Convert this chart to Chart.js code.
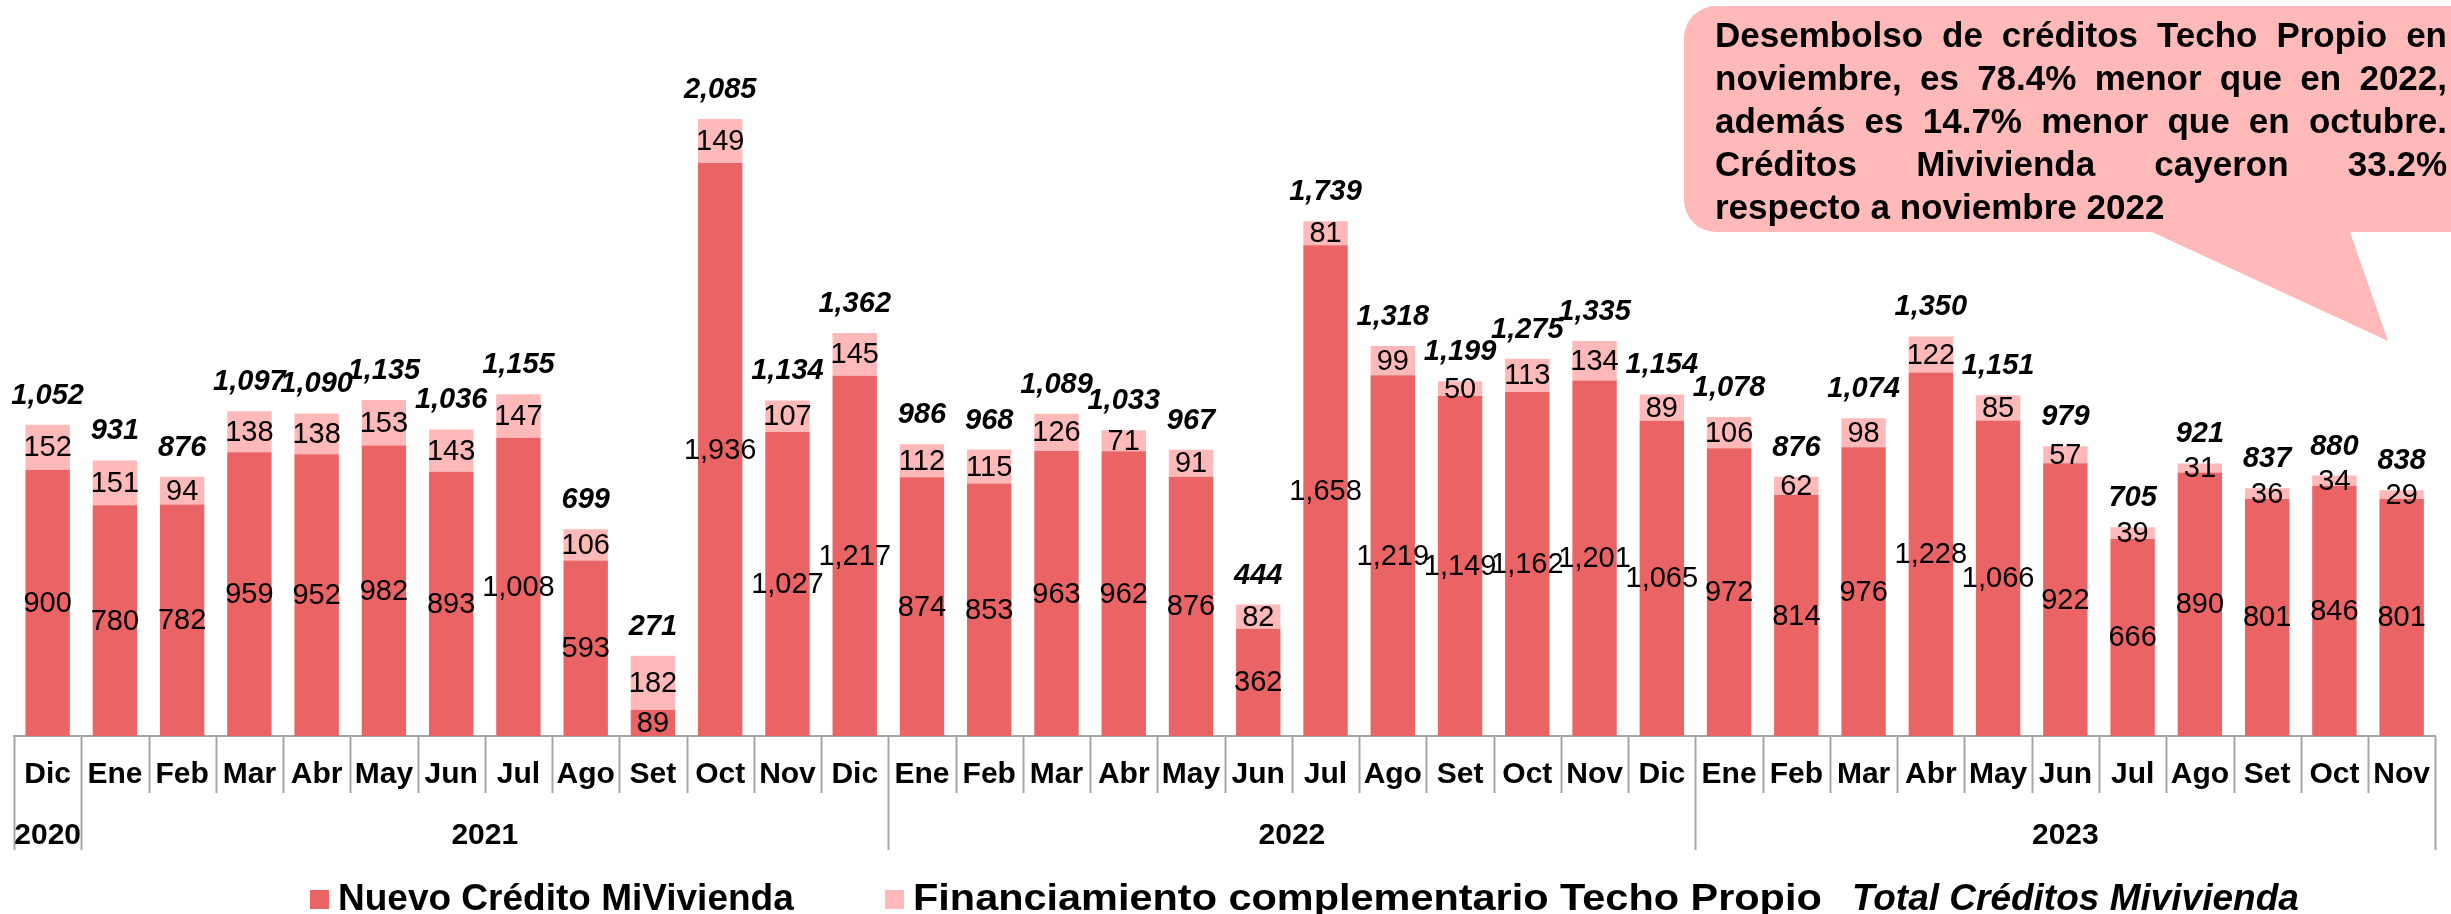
<!DOCTYPE html>
<html lang="es">
<head>
<meta charset="utf-8">
<title>Créditos MiVivienda y Techo Propio</title>
<script src="https://cdn.jsdelivr.net/npm/chart.js@4.4.1/dist/chart.umd.min.js"></script>
<style>
  html, body { margin: 0; padding: 0; background: #fff; }
  #caja { width: 2451px; height: 914px; }
</style>
</head>
<body>
<div id="caja"><canvas id="grafico" width="2451" height="914"></canvas></div>
<script>
// Meses (dic 2020 - nov 2023)
const meses = ['Dic',
  'Ene','Feb','Mar','Abr','May','Jun','Jul','Ago','Set','Oct','Nov','Dic',
  'Ene','Feb','Mar','Abr','May','Jun','Jul','Ago','Set','Oct','Nov','Dic',
  'Ene','Feb','Mar','Abr','May','Jun','Jul','Ago','Set','Oct','Nov'];
const anios = ['2020', '2021', '2022', '2023'];
const mesesPorAnio = [1, 12, 12, 11];

const nuevoCredito = [900, 780, 782, 959, 952, 982, 893, 1008, 593, 89, 1936, 1027, 1217,
  874, 853, 963, 962, 876, 362, 1658, 1219, 1149, 1162, 1201, 1065,
  972, 814, 976, 1228, 1066, 922, 666, 890, 801, 846, 801];
const techoPropio = [152, 151, 94, 138, 138, 153, 143, 147, 106, 182, 149, 107, 145,
  112, 115, 126, 71, 91, 82, 81, 99, 50, 113, 134, 89,
  106, 62, 98, 122, 85, 57, 39, 31, 36, 34, 29];
const totalCreditos = [1052, 931, 876, 1097, 1090, 1135, 1036, 1155, 699, 271, 2085, 1134, 1362,
  986, 968, 1089, 1033, 967, 444, 1739, 1318, 1199, 1275, 1335, 1154,
  1078, 876, 1074, 1350, 1151, 979, 705, 921, 837, 880, 838];

const etiquetaTotal = 'Total Créditos Mivivienda';
const notaLineas = [
  'Desembolso de créditos Techo Propio en',
  'noviembre, es 78.4% menor que en 2022,',
  'además es 14.7% menor que en octubre.',
  'Créditos Mivivienda cayeron 33.2%',
  'respecto a noviembre 2022'
];

const ROJO = '#EA6365';
const ROSA = '#FFB9B9';
const GRIS = '#A6A6A6';
const FUENTE = '"Liberation Sans", Arial, sans-serif';

const fmt = v => v.toLocaleString('en-US');

// etiquetas de datos y totales
const etiquetas = {
  id: 'etiquetas',
  afterDatasetsDraw(chart) {
    const ctx = chart.ctx;
    ctx.save();
    ctx.textAlign = 'center';
    ctx.textBaseline = 'middle';
    ctx.fillStyle = '#000';
    ctx.font = '29px ' + FUENTE;
    chart.data.datasets.forEach((ds, i) => {
      chart.getDatasetMeta(i).data.forEach((bar, j) => {
        ctx.fillText(fmt(ds.data[j]), bar.x, (bar.y + bar.base) / 2 + 1);
      });
    });
    ctx.font = 'italic bold 29px ' + FUENTE;
    const arriba = chart.getDatasetMeta(1).data;
    totalCreditos.forEach((t, j) => {
      ctx.fillText(fmt(t), arriba[j].x, arriba[j].y - 29);
    });
    ctx.restore();
  }
};

// separadores del eje, años, leyenda y nota
const extras = {
  id: 'extras',
  afterDraw(chart) {
    const ctx = chart.ctx;
    const x = chart.scales.x;
    const y0 = chart.chartArea.bottom;
    const paso = x.getPixelForValue(1) - x.getPixelForValue(0);
    const borde = i => x.getPixelForValue(i) - paso / 2;

    ctx.save();
    ctx.strokeStyle = GRIS;
    ctx.lineWidth = 2;
    const limites = [0];
    mesesPorAnio.reduce((acc, n) => { limites.push(acc + n); return acc + n; }, 0);
    for (let i = 0; i <= meses.length; i++) {
      const largo = limites.includes(i);
      const px = Math.round(borde(i)) + 0.5;
      ctx.beginPath();
      ctx.moveTo(px, y0);
      ctx.lineTo(px, y0 + (largo ? 114 : 57));
      ctx.stroke();
    }

    ctx.fillStyle = '#000';
    ctx.textAlign = 'center';
    ctx.textBaseline = 'middle';
    ctx.font = 'bold 30px ' + FUENTE;
    anios.forEach((a, k) => {
      const cx = (borde(limites[k]) + borde(limites[k + 1])) / 2;
      ctx.fillText(a, cx, y0 + 100);
    });

    // leyenda
    const ley = [
      { texto: chart.data.datasets[0].label, color: ROJO, x: 310, estilo: 'bold', ancho: 1 },
      { texto: chart.data.datasets[1].label, color: ROSA, x: 885, estilo: 'bold', ancho: 1.12 },
      { texto: etiquetaTotal, color: null, x: 1852, estilo: 'italic bold', ancho: 1 }
    ];
    ctx.textAlign = 'left';
    ctx.textBaseline = 'alphabetic';
    ley.forEach(it => {
      let tx = it.x;
      if (it.color) {
        ctx.fillStyle = it.color;
        ctx.fillRect(it.x, 890, 19, 19);
        tx = it.x + 28;
      }
      ctx.fillStyle = '#000';
      ctx.font = it.estilo + ' 37px ' + FUENTE;
      ctx.save();
      ctx.translate(tx, 910);
      ctx.scale(it.ancho, 1);
      ctx.fillText(it.texto, 0, 0);
      ctx.restore();
    });

    // nota (globo)
    const L = 1684, T = 6, R = 2520, B = 232, r = 32;
    ctx.fillStyle = ROSA;
    ctx.beginPath();
    ctx.moveTo(L + r, T);
    ctx.lineTo(R, T);
    ctx.lineTo(R, B);
    ctx.lineTo(2350, B);
    ctx.lineTo(2388, 341);
    ctx.lineTo(2152, B);
    ctx.lineTo(L + r, B);
    ctx.arcTo(L, B, L, B - r, r);
    ctx.lineTo(L, T + r);
    ctx.arcTo(L, T, L + r, T, r);
    ctx.closePath();
    ctx.fill();

    ctx.fillStyle = '#000';
    ctx.font = 'bold 35px ' + FUENTE;
    const izq = 1715, der = 2447;
    notaLineas.forEach((linea, k) => {
      const by = 47 + k * 43;
      const palabras = linea.split(' ');
      if (k === notaLineas.length - 1 || palabras.length < 2) {
        ctx.fillText(linea, izq, by);
        return;
      }
      const anchos = palabras.map(p => ctx.measureText(p).width);
      const suma = anchos.reduce((a, b) => a + b, 0);
      const hueco = (der - izq - suma) / (palabras.length - 1);
      let px = izq;
      palabras.forEach((p, m) => {
        ctx.fillText(p, px, by);
        px += anchos[m] + hueco;
      });
    });
    ctx.restore();
  }
};

const ctx = document.getElementById('grafico').getContext('2d');
new Chart(ctx, {
  type: 'bar',
  data: {
    labels: meses,
    datasets: [
      { label: 'Nuevo Crédito MiVivienda', data: nuevoCredito, backgroundColor: ROJO },
      { label: 'Financiamiento complementario Techo Propio', data: techoPropio, backgroundColor: ROSA }
    ]
  },
  options: {
    responsive: false,
    devicePixelRatio: 1,
    animation: false,
    layout: { padding: { left: 14, right: 1, top: 0, bottom: 0 } },
    datasets: { bar: { categoryPercentage: 1, barPercentage: 0.66 } },
    plugins: { legend: { display: false }, tooltip: { enabled: false } },
    scales: {
      x: {
        stacked: true,
        grid: { display: false, drawTicks: false },
        border: { display: true, color: GRIS, width: 2 },
        ticks: { color: '#000', font: { family: FUENTE, size: 30, weight: 'bold' }, padding: 21, maxRotation: 0, autoSkip: false },
        afterFit: s => { s.height = 178; }
      },
      y: { stacked: true, display: false, min: 0, max: 2487 }
    }
  },
  plugins: [etiquetas, extras]
});
</script>
</body>
</html>
